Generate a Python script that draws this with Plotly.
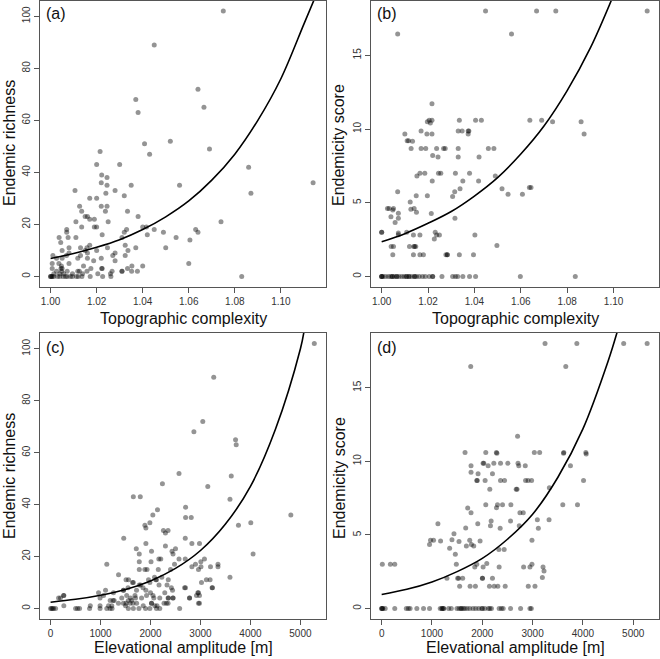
import plotly.graph_objects as go

# ---------------- data ----------------
# (a) topographic complexity vs endemic richness
topo_a = [1.075, 1.045, 1.037, 1.038, 1.064, 1.0666, 1.0408, 1.052, 1.043, 1.069,
          1.0215, 1.020, 1.030, 1.086, 1.0106, 1.0222, 1.0245, 1.022, 1.0245, 1.035,
          1.056, 1.114, 1.017, 1.020, 1.028, 1.032, 1.024, 1.087, 1.0126, 1.022,
          1.0245, 1.0135, 1.0238, 1.0334, 1.015, 1.016, 1.038, 1.017, 1.019, 1.025,
          1.011, 1.074, 1.0135, 1.019, 1.020, 1.040, 1.0416, 1.007, 1.045, 1.063,
          1.064, 1.049, 1.032, 1.007, 1.0037, 1.0076, 1.011, 1.031, 1.0545, 1.042,
          1.0224, 1.033, 1.0044, 1.0605, 1.008, 1.013, 1.0158, 1.0247, 1.0324, 1.037,
          1.050, 1.017, 1.005, 1.015, 1.020, 1.008, 1.016, 1.028, 1.0336, 1.0069,
          1.013, 1.027, 1.0324, 1.022, 1.001, 1.0026, 1.005, 1.0118, 1.016, 1.0187,
          1.028, 1.0007, 1.0036, 1.060, 1.008, 1.0047, 1.0143, 1.040, 1.0353, 1.0007,
          1.005, 1.0175, 1.0224, 1.0334, 1.0026, 1.0072, 1.0118, 1.0158, 1.0267, 1.031,
          1.0352, 1.0377, 1.0014, 1.0057, 1.0095, 1.0139, 1.0205, 1.026, 1.0000, 1.0007,
          1.0014, 1.004, 1.0054, 1.0072, 1.0086, 1.0112, 1.0136, 1.0172, 1.0226, 1.0262,
          1.083, 1.000, 1.0005, 1.004, 1.0045, 1.0048, 1.003, 1.0065, 1.0095, 1.012,
          1.0125, 1.031, 1.0222]
rich_a = [102, 89, 68, 63, 72, 65, 51, 52, 47, 49,
          48, 43, 43, 42, 33, 39, 38, 36, 35, 35,
          35, 36, 30, 30, 33, 31, 32, 32, 27, 27,
          27, 25, 25, 25, 23, 23, 23, 22, 22, 21,
          21, 21, 19, 19, 19, 19, 19, 18, 18, 18,
          17, 17, 17, 17, 15, 15, 15, 15, 15, 16,
          16, 18, 13, 14, 11, 11, 11, 11, 12, 11,
          11, 12, 10, 10, 10, 9, 9, 9, 10, 8,
          8, 8, 8, 7, 8, 7, 7, 7, 7, 6,
          6, 5, 5, 5, 5, 4, 4, 4, 4, 3,
          3, 3, 3, 3, 2, 2, 2, 2, 2, 2,
          2, 2, 1, 1, 1, 1, 1, 1, 0, 0,
          0, 0, 0, 0, 0, 0, 0, 0, 0, 0,
          0, 0, 0, 1, 3, 2, 0, 0, 0, 0,
          2, 2, 3]

# (b) topographic complexity vs endemicity score
topo_b = [1.0448, 1.0668, 1.0751, 1.1145, 1.0069, 1.056, 1.0217,
          1.0217, 1.0205, 1.0335, 1.0405, 1.043, 1.0639, 1.069, 1.0197, 1.0737, 1.086, 1.021,
          1.017, 1.033, 1.0347, 1.0373, 1.0376, 1.010, 1.0195, 1.0217, 1.0373, 1.0873,
          1.011, 1.0116, 1.0133,
          1.0127, 1.017, 1.019, 1.0237, 1.0267, 1.0274, 1.033, 1.046, 1.0484,
          1.022, 1.0243, 1.033, 1.042,
          1.0245, 1.0255, 1.0165, 1.0186, 1.0318, 1.0379, 1.0152, 1.049,
          1.0218, 1.035, 1.0418,
          1.0338, 1.0519, 1.0637, 1.0644, 1.0069, 1.0315, 1.0545, 1.0607,
          1.0149, 1.0197, 1.0306, 1.0123,
          1.0025, 1.0032, 1.0051, 1.014, 1.0126, 1.0048, 1.0072, 1.015, 1.0214,
          1.004, 1.0072, 1.0316, 1.0058,
          1.0, 1.0, 1.0108, 1.0231, 1.0072, 1.0072, 1.0137, 1.0165, 1.0237, 1.0249, 1.0402,
          1.0227, 1.0041, 1.0051, 1.012, 1.0139, 1.0147, 1.0142, 1.0497,
          1.0048, 1.0137, 1.0165, 1.018, 1.0277, 1.0283, 1.0283, 1.0335, 1.0396,
          1.0, 1.0006, 1.0017, 1.0029, 1.0039, 1.0046, 1.0055, 1.0065, 1.0075, 1.0087,
          1.0097, 1.0107, 1.0118, 1.013, 1.0142, 1.015, 1.0162, 1.0176, 1.0188, 1.0205,
          1.022, 1.026, 1.0306, 1.0318, 1.0328, 1.035, 1.0379, 1.0405, 1.0598, 1.0835,
          1.0, 1.0, 1.0046, 1.0065, 1.0107, 1.0118, 1.0142, 1.022]
score_b = [18, 18, 18, 18, 16.44, 16.44, 11.72,
           10.6, 10.6, 10.6, 10.6, 10.6, 10.6, 10.6, 10.5, 10.5, 10.5, 10.4,
           9.87, 9.87, 9.87, 9.87, 9.87, 9.67, 9.67, 9.67, 9.67, 9.67,
           9.2, 9.2, 9.17,
           8.67, 8.67, 8.67, 8.67, 8.67, 8.67, 8.67, 8.67, 8.67,
           8.2, 8.1, 8.1, 8.1,
           7.0, 7.0, 7.0, 7.0, 7.0, 7.0, 6.82, 6.82,
           6.48, 6.48, 6.48,
           5.94, 5.94, 6.03, 6.03, 5.74, 5.74, 5.58, 5.58,
           5.47, 5.47, 5.42, 5.04,
           4.6, 4.6, 4.6, 4.6, 4.56, 4.5, 4.29, 4.36, 4.27,
           4.04, 3.95, 3.95, 3.66,
           3.0, 3.0, 3.0, 3.0, 2.94, 2.82, 2.8, 2.8, 2.8, 2.8, 2.8,
           2.53, 2.03, 2.03, 2.03, 2.03, 2.03, 2.03, 2.1,
           1.47, 1.47, 1.47, 1.47, 1.47, 1.47, 1.47, 1.47, 1.47,
           0, 0, 0, 0, 0, 0, 0, 0, 0, 0,
           0, 0, 0, 0, 0, 0, 0, 0, 0, 0,
           0, 0, 0, 0, 0, 0, 0, 0, 0, 0,
           0, 0, 0, 0, 0, 0, 0, 0]

# (c) elevational amplitude vs endemic richness
elev_c = [5278, 3265, 3046, 2868, 3702, 3715, 2570, 3616, 3146, 2238,
          1656, 1795, 3590, 4808, 2139, 2702, 2046, 2702, 2815, 1987,
          4007, 1887, 3760, 1907, 2258, 2351, 2298, 1464, 2695, 1907,
          2828, 2980, 2298, 1715, 2500, 2020, 2430, 2450, 1775, 4053,
          2166, 2205, 2570, 2695, 3079, 2010, 3007, 1775, 1125, 3350,
          3350, 1775, 1887, 1930, 2155, 2960, 3200, 3010, 2828, 2900,
          3590, 3192, 3118, 1510, 1560, 2355, 2106, 2225, 1960, 1800,
          1640, 2170, 2330, 3020, 3240, 2700, 1360, 1100, 960, 1460,
          1550, 2050, 2960, 2920, 2440, 1060, 1250, 1600, 2360, 2450,
          2270, 2980, 160, 260, 265, 1720, 1850, 2080, 2400, 2480,
          0, 20, 40, 60, 100, 500, 540, 580, 780, 990,
          1125, 1190, 1230, 1556, 1656, 1768, 1900, 1987, 2119, 2185, 2583,
          990, 1160, 1225, 1500, 1854, 2086, 2130,
          1358, 1457, 1510, 1722, 2020, 2020, 2318, 2351, 2960, 1590, 1650,
          1192, 1272, 1623, 1556, 795,
          198, 990, 1424, 1821, 2066, 2185, 2450, 2781, 2781, 2351, 1700,
          1523, 1689, 1920, 2980, 265,
          2000, 2285, 2947, 1258, 1457, 1907,
          1656, 1775, 1987, 2119, 2417, 2682, 3232]
rich_c = [102, 89, 72, 68, 65, 63, 52, 51, 47, 48,
          43, 43, 42, 36, 38, 39, 36, 35, 35, 33,
          33, 32, 32, 31, 30, 30, 29, 27, 27, 25,
          25, 25, 24, 23, 23, 22, 22, 21, 21, 21,
          19, 19, 19, 19, 19, 18, 18, 18, 17, 17,
          16, 15, 15, 15, 15, 15, 16, 16, 16, 17,
          12, 11, 11, 11, 11, 11, 11, 12, 11, 9,
          10, 9, 9, 10, 8, 8, 13, 7, 6, 7,
          8, 5, 6, 5, 7, 5, 3, 4, 4, 4,
          2, 2, 4, 5, 1, 7, 8, 12, 15, 17,
          0, 0, 0, 0, 0, 0, 0, 0, 0, 0,
          0, 0, 0, 0, 0, 0, 0, 0, 0, 0, 0,
          1, 1, 1, 1, 1, 1, 1,
          2, 2, 2, 2, 2, 2, 2, 2, 2, 2, 2,
          3, 3, 3, 3, 1,
          4, 4, 4, 4, 4, 4, 4, 4, 4, 4, 4,
          5, 5, 5, 5, 5,
          6, 6, 6, 6, 7, 7,
          10, 9, 10, 11, 8, 8, 8]

# (d) elevational amplitude vs endemicity score
elev_d = [3247, 3879, 4810, 5276, 1770, 3659, 2701,
          1657, 2069, 2280, 2290, 3034, 3140, 3614, 3620, 4058, 4065,
          1776, 2016, 2030, 2116, 2229, 2362, 2508, 2710, 2725, 2854, 3752,
          1776, 1916, 2202,
          1890, 1900, 2056, 2362, 2442, 2860, 2910, 2980, 4012,
          2149, 2674, 2690, 3333,
          2069, 2302, 2402, 2568, 3600, 3892, 1710, 2282,
          1776, 2748, 2814,
          2176, 2561, 3094, 3327, 1118, 1910, 2162, 2355, 2735, 3114,
          1437, 1670,
          971, 1031, 1171, 1397, 1537, 1750, 1956, 2987,
          951, 1683, 1783, 1830, 1351, 2329, 2435, 1464,
          13, 173, 260, 1484, 1890, 2089, 2987,
          1850, 2016, 2335, 2821, 2947, 3207, 3227,
          1297, 1510, 1530, 1610, 2003, 2003, 2202, 3194,
          1550, 1757, 1863, 2142, 2236, 2309, 2455, 2914, 3047,
          0, 20, 70, 260, 490, 530, 565, 699, 832, 951,
          1164, 1200, 1231, 1331, 1384, 1497, 1540, 1580, 1620, 1650,
          1697, 1750, 1816, 1870, 1930, 1990, 2050, 2120, 2150, 2182,
          2335, 2380, 2415, 2561, 2761, 2947, 2974,
          0, 20, 1200, 1231, 1580, 2003]
score_d = [18, 18, 18, 18, 16.44, 16.44, 11.7,
           10.6, 10.6, 10.6, 10.55, 10.6, 10.6, 10.55, 10.6, 10.6, 10.5,
           9.7, 9.87, 9.87, 9.7, 9.87, 9.87, 9.87, 9.87, 9.7, 9.7, 9.7,
           9.26, 9.15, 9.15,
           8.7, 8.7, 8.7, 8.7, 8.7, 8.7, 8.7, 8.7, 8.7,
           8.1, 8.1, 8.1, 8.2,
           7.05, 7.05, 7.05, 7.05, 7.05, 7.05, 6.82, 6.84,
           6.5, 6.5, 6.5,
           5.94, 5.94, 6.03, 6.03, 5.76, 5.76, 5.62, 5.44, 5.62, 5.44,
           5.08, 5.46,
           4.63, 4.63, 4.58, 4.67, 4.54, 4.63, 4.58, 4.63,
           4.34, 4.25, 4.34, 4.25, 4.09, 4.0, 4.0, 3.68,
           3.0, 3.0, 3.0, 3.0, 3.0, 3.05, 3.0,
           2.82, 2.82, 2.82, 2.82, 2.82, 2.82, 2.55,
           2.05, 2.05, 2.05, 2.05, 2.05, 2.05, 2.05, 2.1,
           1.5, 1.5, 1.5, 1.5, 1.5, 1.5, 1.5, 1.5, 1.5,
           0, 0, 0, 0, 0, 0, 0, 0, 0, 0,
           0, 0, 0, 0, 0, 0, 0, 0, 0, 0,
           0, 0, 0, 0, 0, 0, 0, 0, 0, 0,
           0, 0, 0, 0, 0, 0, 0,
           0, 0, 0, 0, 0, 0]

# fitted curves
curve_a_x = [1.00, 1.01, 1.02, 1.03, 1.04, 1.05, 1.06, 1.07, 1.08, 1.09, 1.10, 1.11, 1.1145]
curve_a_y = [6.9, 8.8, 11.2, 14.1, 18.0, 22.9, 29.0, 37.0, 47.0, 60.0, 76.0, 97.0, 106.5]
curve_b_x = [1.00, 1.01, 1.02, 1.03, 1.04, 1.05, 1.06, 1.07, 1.08, 1.09, 1.0995]
curve_b_y = [2.35, 2.9, 3.6, 4.4, 5.45, 6.7, 8.3, 10.2, 12.6, 15.5, 18.9]
curve_c_x = [0, 500, 1000, 1500, 2000, 2500, 3000, 3500, 4000, 4500, 5000, 5070]
curve_c_y = [2.4, 3.5, 5.1, 7.3, 10.6, 15.4, 22.3, 32.5, 47.0, 69.0, 100.0, 106.5]
curve_d_x = [0, 500, 1000, 1500, 2000, 2500, 3000, 3500, 4000, 4500, 4690]
curve_d_y = [0.95, 1.3, 1.8, 2.5, 3.4, 4.7, 6.4, 8.9, 12.2, 16.8, 18.9]

x_ticks_topo = [1.00, 1.02, 1.04, 1.06, 1.08, 1.10]
x_ticks_elev = [0, 1000, 2000, 3000, 4000, 5000]
y_ticks_rich = [0, 20, 40, 60, 80, 100]
y_ticks_score = [0, 5, 10, 15]

# ---------------- figure ----------------
W, H = 660, 659
FONT = "Liberation Sans, Arial, sans-serif"
pt_color = "rgba(0,0,0,0.42)"
frame = "#555555"

fig = go.Figure()

panels = [
    ("x", "y", topo_a, rich_a, curve_a_x, curve_a_y),
    ("x2", "y2", topo_b, score_b, curve_b_x, curve_b_y),
    ("x3", "y3", elev_c, rich_c, curve_c_x, curve_c_y),
    ("x4", "y4", elev_d, score_d, curve_d_x, curve_d_y),
]
for xa, ya, xs, ys, cx, cy in panels:
    fig.add_trace(go.Scatter(x=xs, y=ys, mode="markers", xaxis=xa, yaxis=ya,
                             marker=dict(size=5, color=pt_color, line=dict(width=0)),
                             showlegend=False, hoverinfo="skip"))
    fig.add_trace(go.Scatter(x=cx, y=cy, mode="lines", xaxis=xa, yaxis=ya,
                             line=dict(color="black", width=1.6, shape="spline"),
                             showlegend=False, hoverinfo="skip"))

def px_x(p):
    return p / W

def px_y(p):
    return 1 - p / H

def axis(domain, rng, ticks, anchor, ytype=False):
    d = dict(domain=domain, range=rng, tickvals=ticks, showgrid=False, zeroline=False,
             showline=True, mirror=True, linecolor=frame, linewidth=1,
             ticks="outside", ticklen=5, tickcolor=frame, tickwidth=1,
             tickfont=dict(family=FONT, size=10, color="#333333"), anchor=anchor)
    if ytype:
        d["tickangle"] = -90
    return d

xd_left = [px_x(40), px_x(326)]
xd_right = [px_x(371), px_x(659)]
yd_top = [px_y(287), px_y(0.5)]
yd_bot = [px_y(619), px_y(333)]

topo_range = [0.9954, 1.1196]
elev_range = [-212, 5512]
rich_range = [-4.08, 106.08]
score_range = [-0.72, 18.72]

fig.update_layout(
    width=W, height=H, margin=dict(l=0, r=0, t=0, b=0),
    plot_bgcolor="white", paper_bgcolor="white",
    xaxis=dict(axis(xd_left, topo_range, x_ticks_topo, "y"), tickformat=".2f"),
    yaxis=axis(yd_top, rich_range, y_ticks_rich, "x", True),
    xaxis2=dict(axis(xd_right, topo_range, x_ticks_topo, "y2"), tickformat=".2f"),
    yaxis2=axis(yd_top, score_range, y_ticks_score, "x2", True),
    xaxis3=axis(xd_left, elev_range, x_ticks_elev, "y3"),
    yaxis3=axis(yd_bot, rich_range, y_ticks_rich, "x3", True),
    xaxis4=axis(xd_right, elev_range, x_ticks_elev, "y4"),
    yaxis4=axis(yd_bot, score_range, y_ticks_score, "x4", True),
)

ann = []
title_font = dict(family=FONT, size=16, color="#111111")
# panel letters
for lbl, xp, yp in [("(a)", 44, 14), ("(b)", 375, 14), ("(c)", 44, 347), ("(d)", 375, 347)]:
    ann.append(dict(text=lbl, x=px_x(xp), y=px_y(yp), xref="paper", yref="paper",
                    xanchor="left", yanchor="middle", showarrow=False, font=title_font))
# x titles
for txt, xc, yc in [("Topographic complexity", 183, 318), ("Topographic complexity", 515, 318),
                    ("Elevational amplitude [m]", 183, 647), ("Elevational amplitude [m]", 515, 647)]:
    ann.append(dict(text=txt, x=px_x(xc), y=px_y(yc), xref="paper", yref="paper",
                    xanchor="center", yanchor="middle", showarrow=False, font=title_font))
# y titles
for txt, xc, yc in [("Endemic richness", 9, 143), ("Endemicity score", 339, 145),
                    ("Endemic richness", 9, 476), ("Endemicity score", 339, 478)]:
    ann.append(dict(text=txt, x=px_x(xc), y=px_y(yc), xref="paper", yref="paper",
                    xanchor="center", yanchor="middle", textangle=-90, showarrow=False,
                    font=title_font))
fig.update_layout(annotations=ann)

fig.write_html("out.html", config={"displayModeBar": False},
               post_script="document.body.style.margin='0';document.body.style.padding='0';")
